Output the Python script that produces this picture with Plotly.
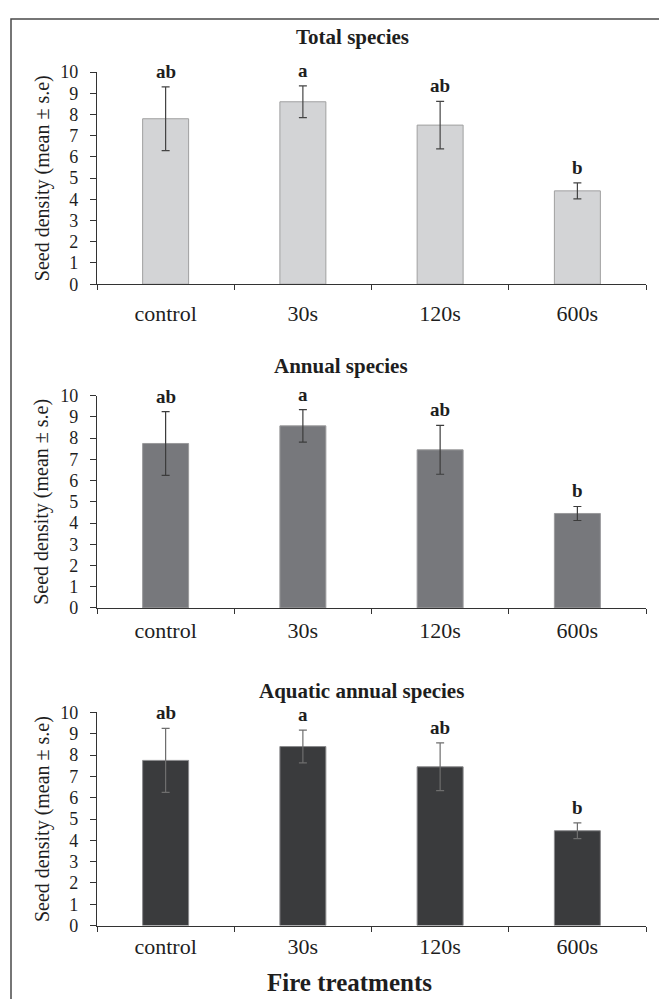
import plotly.graph_objects as go

W, H = 667, 999

categories = ["control", "30s", "120s", "600s"]
panel_titles = ["Total species", "Annual species", "Aquatic annual species"]

total_mean = [7.8, 8.6, 7.5, 4.4]
total_se = [1.5, 0.75, 1.12, 0.38]
annual_mean = [7.75, 8.58, 7.45, 4.45]
annual_se = [1.5, 0.77, 1.15, 0.33]
aquatic_mean = [7.75, 8.4, 7.45, 4.45]
aquatic_se = [1.5, 0.77, 1.12, 0.37]
letters = ["ab", "a", "ab", "b"]

y_ticks = list(range(0, 11))

means = [total_mean, annual_mean, aquatic_mean]
ses = [total_se, annual_se, aquatic_se]
fills = ["#d3d4d6", "#77787c", "#3a3b3d"]
outlines = ["#a0a0a0", "#9a9a9c", "#8a8a8c"]
err_colors = ["#444444", "#3c3c3c", "#6e6e6e"]
x_standoffs = [9, 3, 1]


# the page shows the figure slightly offset; convert wanted screen pixels
def py(v):
    return (v - 15.7) / 0.984


def px(v):
    return v - 8


plot_px = [(70, 283), (395, 608), (713, 927)]
title_px = [(352, 35), (341, 365), (361, 691)]
x_left, x_right = px(97), px(646)

FONT = "Liberation Serif, Times New Roman, serif"
TXT = "#1e1e1e"

fig = go.Figure()
annotations = []
for i in range(3):
    ax = "" if i == 0 else str(i + 1)
    fig.add_trace(go.Bar(
        x=categories, y=means[i],
        width=0.335,
        marker=dict(color=fills[i], line=dict(color=outlines[i], width=1)),
        error_y=dict(type="data", array=ses[i], visible=True,
                     color=err_colors[i], thickness=1.2, width=4),
        xaxis="x" + ax, yaxis="y" + ax, showlegend=False,
        hoverinfo="skip",
    ))
    top, bot = plot_px[i]
    fig.update_layout(**{
        "xaxis" + ax: dict(
            domain=[x_left / W, x_right / W], anchor="y" + ax,
            type="category", tickson="boundaries",
            ticks="outside", ticklen=5, tickwidth=1, tickcolor="#333333",
            showline=True, linecolor="#333333", linewidth=1.3,
            showgrid=False, zeroline=False,
            tickfont=dict(family=FONT, size=22, color=TXT),
            ticklabelstandoff=x_standoffs[i],
            fixedrange=True,
        ),
        "yaxis" + ax: dict(
            domain=[1 - py(bot) / H, 1 - py(top) / H], anchor="x" + ax,
            range=[0, 10], tickvals=y_ticks,
            ticks="outside", ticklen=6, tickwidth=1, tickcolor="#333333",
            showline=True, linecolor="#333333", linewidth=1.3,
            showgrid=False, zeroline=False,
            tickfont=dict(family=FONT, size=18, color=TXT),
            ticklabelstandoff=8,
            fixedrange=True,
        ),
    })
    # significance letters
    for c, m, s, l in zip(categories, means[i], ses[i], letters):
        annotations.append(dict(
            x=c, y=m + s, xref="x" + ax, yref="y" + ax,
            text="<b>" + l + "</b>", showarrow=False,
            yanchor="bottom", yshift=3,
            font=dict(family=FONT, size=19, color=TXT),
        ))
    # panel title
    tx, ty = title_px[i]
    annotations.append(dict(
        x=px(tx) / W, y=1 - py(ty) / H, xref="paper", yref="paper",
        text="<b>" + panel_titles[i] + "</b>", showarrow=False,
        xanchor="center", yanchor="middle",
        font=dict(family=FONT, size=21, color=TXT),
    ))
    # y-axis title
    annotations.append(dict(
        x=px(42) / W, y=1 - py((top + bot) / 2) / H, xref="paper", yref="paper",
        text="Seed density (mean ± s.e)", showarrow=False, textangle=-90,
        xanchor="center", yanchor="middle",
        font=dict(family=FONT, size=20, color=TXT),
    ))

annotations.append(dict(
    x=px(349) / W, y=1 - py(984) / H, xref="paper", yref="paper",
    text="<b>Fire treatments</b>", showarrow=False,
    xanchor="center", yanchor="middle",
    font=dict(family=FONT, size=25, color=TXT),
))

fig.update_layout(
    width=W, height=H,
    margin=dict(l=0, r=0, t=0, b=0),
    paper_bgcolor="white", plot_bgcolor="white",
    annotations=annotations,
    shapes=[dict(type="rect", xref="paper", yref="paper",
                 x0=px(11) / W, x1=1.05, y0=-0.05, y1=1 - 1 / H,
                 line=dict(color="#4a4a4a", width=1.5))],
)

fig.write_html("out.html")
